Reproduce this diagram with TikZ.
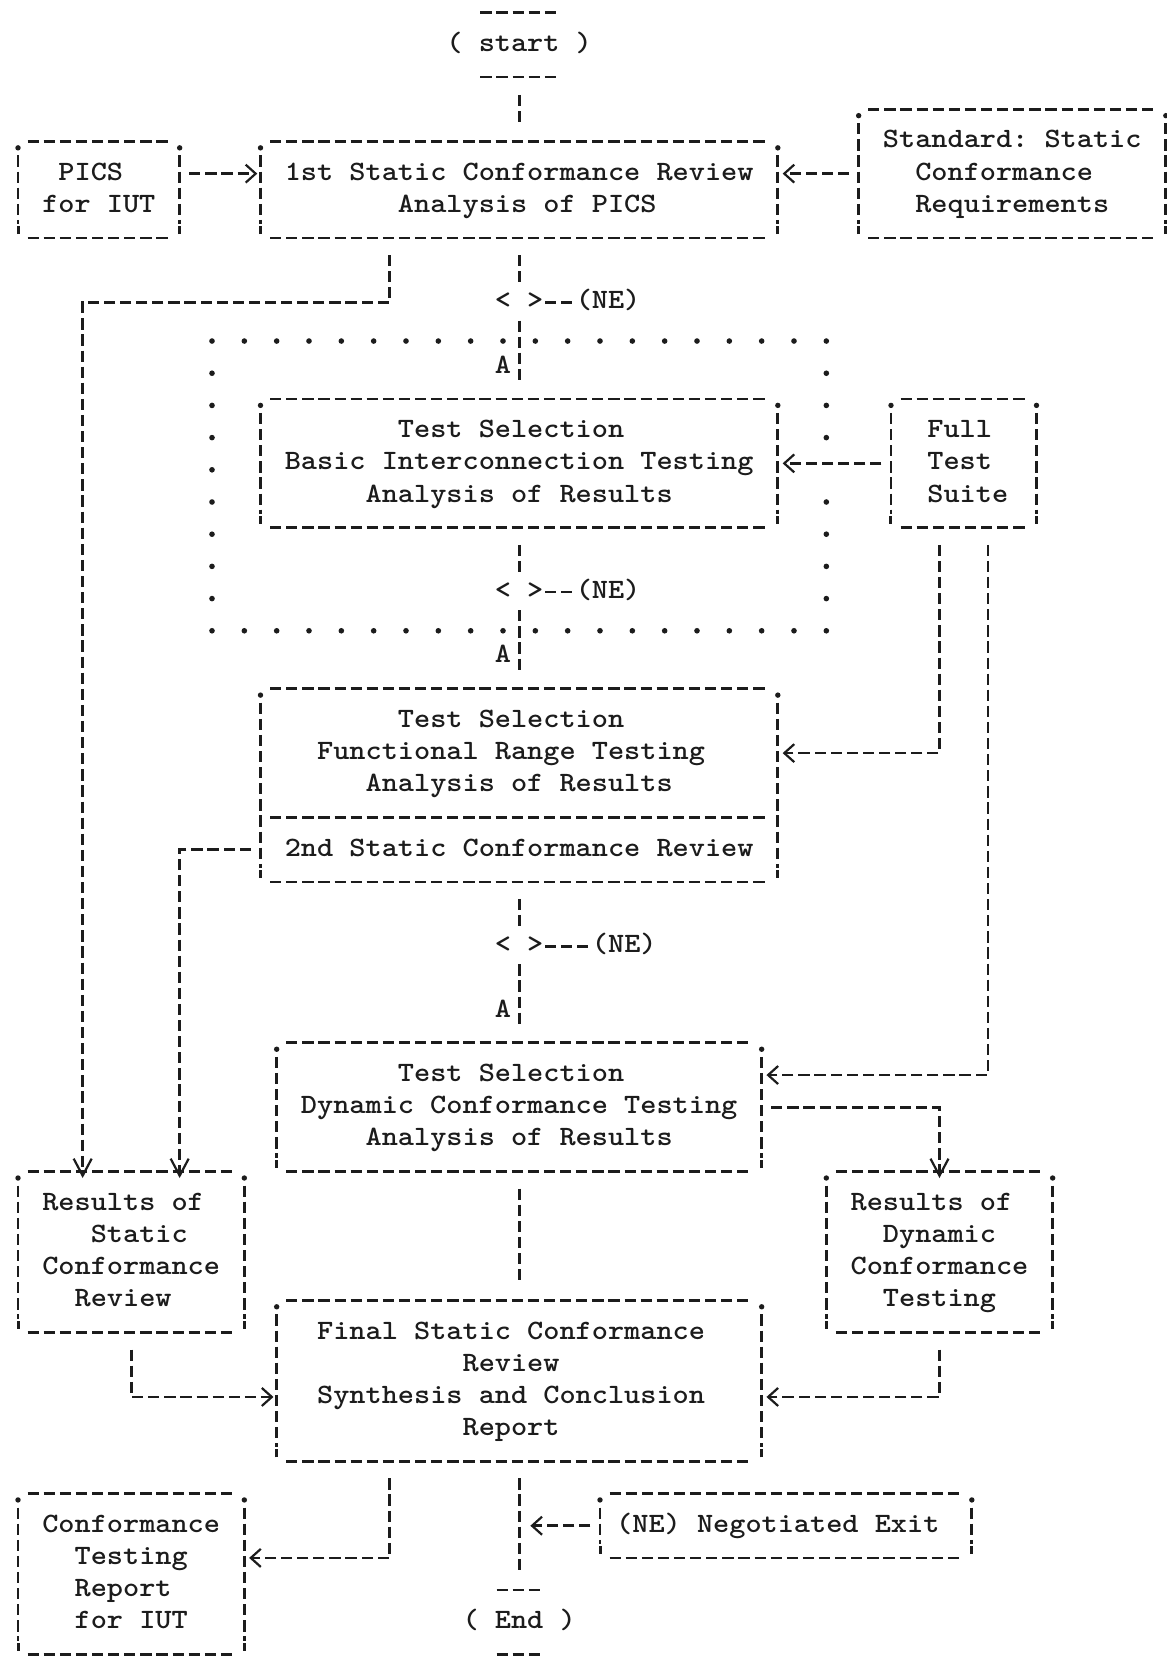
\documentclass[tikz,border=0pt]{standalone}
\usepackage{fontspec}
\newfontfamily\tyfont[FakeStretch=1.099]{lmmonolt10-bold.otf}
\usetikzlibrary{arrows.meta,fit,calc}
\definecolor{ink}{HTML}{1C1C1C}
% one character cell is 8.08pt wide and 16.09pt high
\newcommand\clines[1]{\vbox{\halign{\hfil\strut##\hfil\cr#1\crcr}}}
\newcommand\llines[1]{\vbox{\halign{\kern4.04pt\strut##\hfil\cr#1\crcr}}}
\tikzset{
  hbarb/.tip={Straight Barb[length=5pt,width=9pt,line width=1.1pt]},
  vbarb/.tip={Straight Barb[length=8.5pt,width=9pt,line width=1.1pt]},
  txt/.style={font=\tyfont\fontsize{14}{16.09}\selectfont\frenchspacing, text=ink,
    inner sep=0pt, outer sep=0pt},
  lbl/.style={txt, text height=11.26pt, text depth=4.83pt},
  cells/.style n args={4}{txt, minimum width={(#3-#1)*8.08pt},
    minimum height={(#4-#2)*16.09pt}, at={({(#1+#3)/2},{(#2+#4)/2})}},
  conn/.style={draw=ink, line width=1.35pt, dash pattern=on 5.6pt off 2.45pt},
  dot/.style={fill=ink},
}
% typed frame: dashed edges, dots on the top corners, ticks on the bottom ones
\newcommand\tframe[1]{%
  \draw[conn] ([xshift=4.8pt]#1.north west) -- ([xshift=-4.8pt]#1.north east)
              ([xshift=4.8pt]#1.south west) -- ([xshift=-4.8pt]#1.south east)
              ([yshift=-7pt]#1.north west) -- ([yshift=7pt]#1.south west)
              ([yshift=-7pt]#1.north east) -- ([yshift=7pt]#1.south east);
  \fill[dot] ([yshift=-3.2pt]#1.north west) circle (1.35pt)
             ([yshift=-3.2pt]#1.north east) circle (1.35pt);
  \draw[ink,line width=1.5pt] ([yshift=2pt]#1.south west) -- ([yshift=6pt]#1.south west)
             ([yshift=2pt]#1.south east) -- ([yshift=6pt]#1.south east);}
\begin{document}
\begin{tikzpicture}[x=8.08pt,y=-16.09pt]
\useasboundingbox (-1.114,-0.394) rectangle (71.04,51.14);
\fill[white] (-1.114,-0.394) rectangle (71.04,51.14);

% ---------- terminals ----------
\node[lbl] (start) at (31,1) {( start )};
\draw[conn] ([shift={(-19.39pt,16.09pt)}]start.center) -- ([shift={(19.39pt,16.09pt)}]start.center)
            ([shift={(-19.39pt,-16.09pt)}]start.center) -- ([shift={(19.39pt,-16.09pt)}]start.center);
\node[lbl] (end) at (31,50) {( End )};
\draw[conn] ([shift={(-11.3pt,16.09pt)}]end.center) -- ([shift={(11.3pt,16.09pt)}]end.center)
            ([shift={(-11.3pt,-16.09pt)}]end.center) -- ([shift={(11.3pt,-16.09pt)}]end.center);

% ---------- boxes ----------
\node[cells={0}{4}{10}{7}] (pics) {\clines{PICS\ \cr for IUT}};
\node[cells={15}{4}{47}{7}] (b1) {\clines{1st Static Conformance Review\cr\ Analysis of PICS}};
\node[cells={52}{3}{71}{7}] (std) {\clines{Standard: Static\cr Conformance\ \cr Requirements}};
\node[cells={15}{12}{47}{16}] (b2) {\clines{Test Selection\ \cr Basic Interconnection Testing\cr Analysis of Results}};
\node[cells={54}{12}{63}{16}] (full) {\llines{Full\cr Test\cr Suite}};
\node[cells={15}{21}{47}{27}] (b3) {\clines{Test Selection\ \cr Functional Range Testing\ \cr Analysis of Results\cr\cr 2nd Static Conformance Review}};
\node[cells={16}{32}{46}{36}] (b4) {\clines{Test Selection\ \cr Dynamic Conformance Testing\cr Analysis of Results}};
\node[cells={0}{36}{14}{41}] (rstat) {\clines{Results of\ \cr\ Static\cr Conformance\cr Review\ }};
\node[cells={50}{36}{64}{41}] (rdyn) {\clines{Results of\ \cr Dynamic\cr Conformance\cr Testing}};
\node[cells={16}{40}{46}{45}] (final) {\clines{Final Static Conformance\ \cr Review\ \cr Synthesis and Conclusion\ \cr Report\ }};
\node[cells={0}{46}{14}{51}] (report) {\clines{Conformance\cr Testing\cr Report\ \cr for IUT}};
\node[cells={36}{46}{59}{48}] (nexit) {\clines{(NE) Negotiated Exit\ }};

\foreach \b in {pics,b1,std,b2,full,b3,b4,rstat,rdyn,final,report,nexit} {\tframe{\b}}
\draw[conn] ([shift={(4.8pt,-16.09pt)}]b3.west) -- ([shift={(-4.8pt,-16.09pt)}]b3.east);

% ---------- decisions ----------
\node[lbl] (d1) at (31,9) {< >};
\node[lbl] (ne1) at (36.5,9) {(NE)};
\node[lbl] (a1) at (30,11) {A};
\node[lbl] (d2) at (31,18) {< >};
\node[lbl] (ne2) at (36.5,18) {(NE)};
\node[lbl] (a2) at (30,20) {A};
\node[lbl] (d3) at (31,29) {< >};
\node[lbl] (ne3) at (37.5,29) {(NE)};
\node[lbl] (a3) at (30,31) {A};

% ---------- dotted loop around the interconnection test ----------
\node[fit={(12,10)(50,19)}, inner sep=0pt] (loop) {};
\foreach \c in {12,14,...,50} {
  \fill[dot] (\c,10.2) circle (1.4pt);
  \fill[dot] (\c,19.2) circle (1.4pt);}
\foreach \r in {11,...,18} {
  \fill[dot] (12,\r+0.2) circle (1.4pt);
  \ifnum\r=14\else\fill[dot] (50,\r+0.2) circle (1.4pt);\fi}

% ---------- connectors ----------
\draw[conn, shorten <=17pt, shorten >=8pt] (start) -- (b1);
\draw[conn, -hbarb, shorten <=4.8pt, shorten >=1.6pt] ([yshift=0.5*16.09pt]pics.east) -- ([yshift=0.5*16.09pt]b1.west);
\draw[conn, -hbarb, shorten <=4.8pt, shorten >=2.4pt] (std.west) -- (std.west -| b1.east);
\draw[conn, shorten <=8.5pt, shorten >=1pt] (b1) -- (d1);
\draw[conn, shorten <=0.8pt, shorten >=0.8pt] (d1) -- (ne1);
\draw[conn, shorten <=1pt, shorten >=8pt] (d1) -- (b2);
\draw[conn, -vbarb, shorten <=8.5pt] ([xshift=-8*8.08pt]b1.south) -- ([xshift=-8*8.08pt]b1.south |- d1)
      -| ([shift={(-3*8.08pt,-3.2pt)}]rstat.north);
\draw[conn, -hbarb, shorten <=4.8pt, shorten >=2.4pt] (full) -- (b2);
\draw[conn, shorten <=8.5pt, shorten >=1pt] (b2) -- (d2);
\draw[conn, shorten <=0.8pt, shorten >=0.8pt] (d2) -- (ne2);
\draw[conn, shorten <=1pt, shorten >=8pt] (d2) -- (b3);
\draw[conn, -hbarb, shorten <=8.5pt, shorten >=2.4pt] ([xshift=-1.5*8.08pt]full.south) |- ([yshift=16.09pt]b3.east);
\draw[conn, -hbarb, shorten <=8.5pt, shorten >=2.4pt] ([xshift=1.5*8.08pt]full.south) |- ([yshift=16.09pt]b4.east);
\draw[conn, -vbarb, shorten <=4.8pt] ([yshift=-2*16.09pt]b3.west) -| ([shift={(3*8.08pt,-3.2pt)}]rstat.north);
\draw[conn, shorten <=8.5pt, shorten >=1pt] (b3) -- (d3);
\draw[conn, shorten <=0.8pt, shorten >=0.8pt] (d3) -- (ne3);
\draw[conn, shorten <=1pt, shorten >=8pt] (d3) -- (b4);
\draw[conn, -vbarb, shorten <=4.8pt] (b4.east) -| ([yshift=-3.2pt]rdyn.north);
\draw[conn, shorten <=8.5pt, shorten >=8.5pt] (b4) -- (final);
\draw[conn, -hbarb, shorten <=8.5pt, shorten >=1.6pt] (rstat.south) |- ([yshift=-0.5*16.09pt]final.west);
\draw[conn, -hbarb, shorten <=8.5pt, shorten >=2.4pt] (rdyn.south) |- ([yshift=-0.5*16.09pt]final.east);
\draw[conn, -hbarb, shorten <=8.5pt, shorten >=2.4pt] ([xshift=-8*8.08pt]final.south) |- ([yshift=0.5*16.09pt]report.east);
\draw[conn, shorten <=8.5pt, shorten >=17pt] (final) -- (end);
\draw[conn, -hbarb, shorten <=4.8pt, shorten >=5.6pt] (nexit.west) -- (nexit.west -| end);
\end{tikzpicture}
\end{document}
